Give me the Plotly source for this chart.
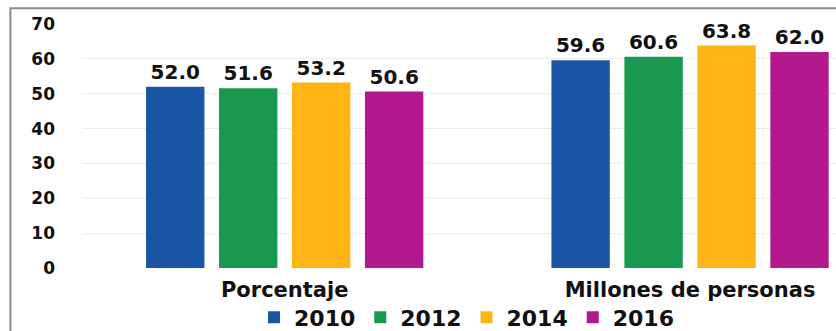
import plotly.graph_objects as go

categories = ["Porcentaje", "Millones de personas"]
years = ["2010", "2012", "2014", "2016"]
values = {
    "2010": [52.0, 59.6],
    "2012": [51.6, 60.6],
    "2014": [53.2, 63.8],
    "2016": [50.6, 62.0],
}
colors = {"2010": "#1A55A6", "2012": "#18994F", "2014": "#FDB515", "2016": "#B3188F"}
y_ticks = [0, 10, 20, 30, 40, 50, 60, 70]

FONT = "DejaVu Sans"

fig = go.Figure()
for yr in years:
    fig.add_trace(go.Bar(
        name=yr, x=categories, y=values[yr],
        marker=dict(color=colors[yr], line=dict(width=0)),
        text=[f"{v:.1f}" for v in values[yr]],
        textposition="outside", cliponaxis=False,
        textfont=dict(family=FONT, size=20, color="#111111", weight="bold"),
    ))

fig.update_layout(
    width=836, height=331,
    margin=dict(l=82, r=0, t=24, b=63, autoexpand=False),
    paper_bgcolor="white", plot_bgcolor="white",
    barmode="group", bargap=0.28, bargroupgap=0.2,
    showlegend=True,
    legend=dict(orientation="h", x=0.51, xanchor="center", y=-0.203, yanchor="middle",
                bgcolor="rgba(0,0,0,0)",
                font=dict(family=FONT, size=22, color="#111111", weight="bold"),
                itemwidth=30, tracegroupgap=0),
    xaxis=dict(range=[-0.5, 1.36], showgrid=False, showline=False, zeroline=False,
               ticks="", ticklabelstandoff=7, automargin=False,
               tickfont=dict(family=FONT, size=21, color="#111111", weight="bold")),
    yaxis=dict(range=[0, 70], tickvals=y_ticks, showgrid=True, gridcolor="#EBEBEB",
               gridwidth=1, zeroline=False, showline=False, ticks="", automargin=False,
               ticklabelstandoff=26,
               tickfont=dict(family=FONT, size=17, color="#111111", weight="bold")),
    shapes=[dict(type="rect", xref="paper", yref="paper", x0=-0.095, x1=1.2,
                 y0=-0.4, y1=1.065, line=dict(color="#8C8C8C", width=2), fillcolor="rgba(0,0,0,0)",
                 layer="above")],
)

fig.write_html("out.html")
